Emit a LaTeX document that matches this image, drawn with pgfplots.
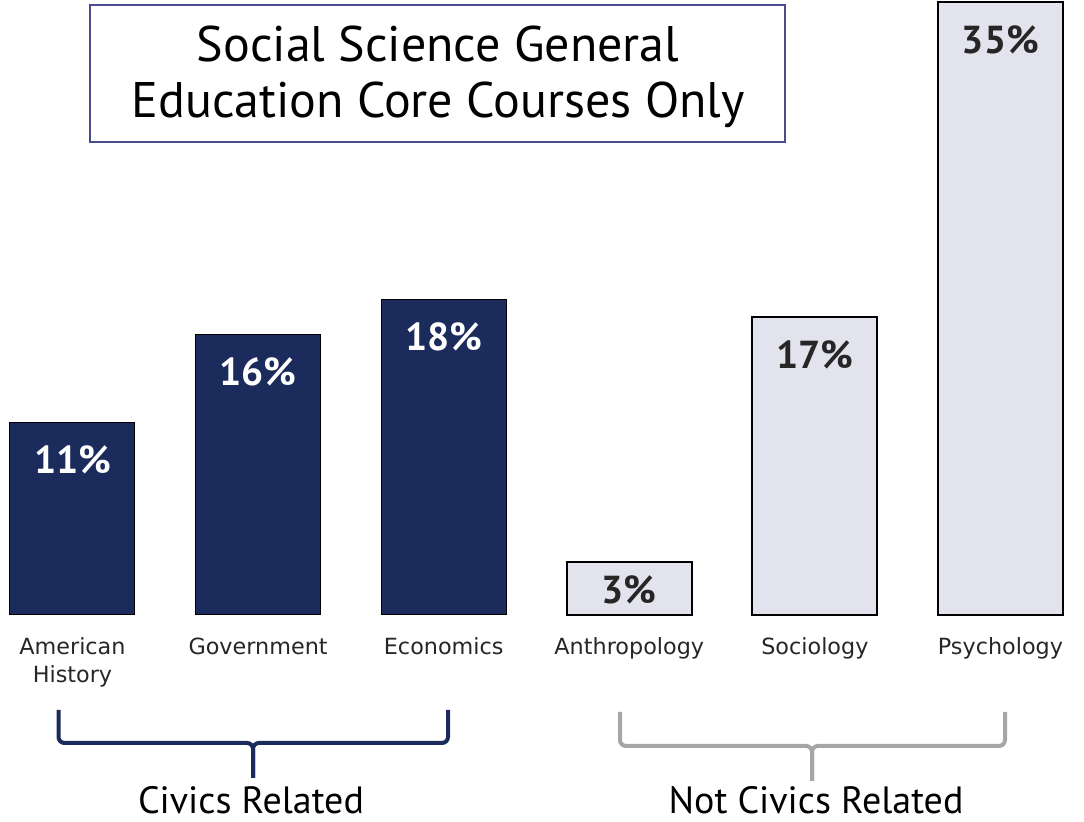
\documentclass[border=0pt]{standalone}
\usepackage{fontspec}
\usepackage{pgfplots}
\pgfplotsset{compat=1.18}
\setmainfont{DejaVu Sans}
\newfontfamily\titlefont{PT Sans}
\definecolor{navy}{HTML}{1A2B5C}
\definecolor{lightbar}{HTML}{E2E3EC}
\definecolor{bracegray}{HTML}{A6A6A6}
\definecolor{boxcol}{HTML}{4B4B8F}
\begin{document}
\begin{tikzpicture}
\useasboundingbox (0,0) rectangle (542pt,411pt);
\begin{axis}[
  at={(0pt,103.5pt)}, anchor=south west,
  scale only axis, width=542pt, height=307.5pt,
  xmin=-0.3906, xmax=5.45, ymin=0, ymax=35.143,
  axis line style={draw=none}, tick style={draw=none},
  ytick=\empty,
  xtick={0,1,2,3,4,5},
  xticklabels={American\\History,Government,Economics,Anthropology,Sociology,Psychology},
  xticklabel style={align=center, font=\fontsize{11.15pt}{14pt}\selectfont, text=black!85, yshift=-7.8pt},
  clip=false,
  /pgf/number format/assume math mode=true,
  nodes near coords={\pgfmathprintnumber{\pgfplotspointmeta}\%},
  nodes near coords align={center},
]
\addplot[ybar, bar shift=0pt, bar width=0.6735, fill=navy, draw=black, line width=0.5pt,
  every node near coord/.append style={text=white, font=\titlefont\bfseries\fontsize{19.5pt}{22pt}\selectfont, yshift=-18.5pt}]
  coordinates {(0,11) (1,16) (2,18)};
\addplot[ybar, bar shift=0pt, bar width=0.6735, fill=lightbar, draw=black, line width=1pt,
  every node near coord/.append style={text=black!85, font=\titlefont\bfseries\fontsize{19.5pt}{22pt}\selectfont, yshift=-18.5pt}]
  coordinates {(4,17) (5,35)};
\addplot[ybar, bar shift=0pt, bar width=0.6735, fill=lightbar, draw=black, line width=1pt,
  every node near coord/.append style={text=black!85, font=\titlefont\bfseries\fontsize{19.5pt}{22pt}\selectfont, yshift=-13.5pt}]
  coordinates {(3,3)};
\end{axis}
\begin{scope}[x=0.5pt, y=-0.5pt, yshift=411pt]
  \draw[boxcol, line width=1pt] (90,5) rectangle (785,142);
  \node[anchor=base, inner sep=0pt, font=\titlefont\fontsize{25pt}{28pt}\selectfont] at (438,62) {Social Science General};
  \node[anchor=base, inner sep=0pt, font=\titlefont\fontsize{25pt}{28pt}\selectfont] at (438,118) {Education Core Courses Only};
  \draw[navy, line width=2pt, rounded corners=3pt] (58.5,710) -- (58.5,743) -- (253,743) -- (253,778);
  \draw[navy, line width=2pt, rounded corners=3pt] (448,710) -- (448,743) -- (253,743) -- (253,778);
  \draw[bracegray, line width=2pt, rounded corners=3pt] (620,712) -- (620,746) -- (812,746) -- (812,781);
  \draw[bracegray, line width=2pt, rounded corners=3pt] (1005,712) -- (1005,746) -- (812,746) -- (812,781);
  \node[anchor=base, inner sep=0pt, font=\titlefont\fontsize{19pt}{22pt}\selectfont] at (251,814) {Civics Related};
  \node[anchor=base, inner sep=0pt, font=\titlefont\fontsize{19pt}{22pt}\selectfont] at (816,814) {Not Civics Related};
\end{scope}
\end{tikzpicture}
\end{document}
